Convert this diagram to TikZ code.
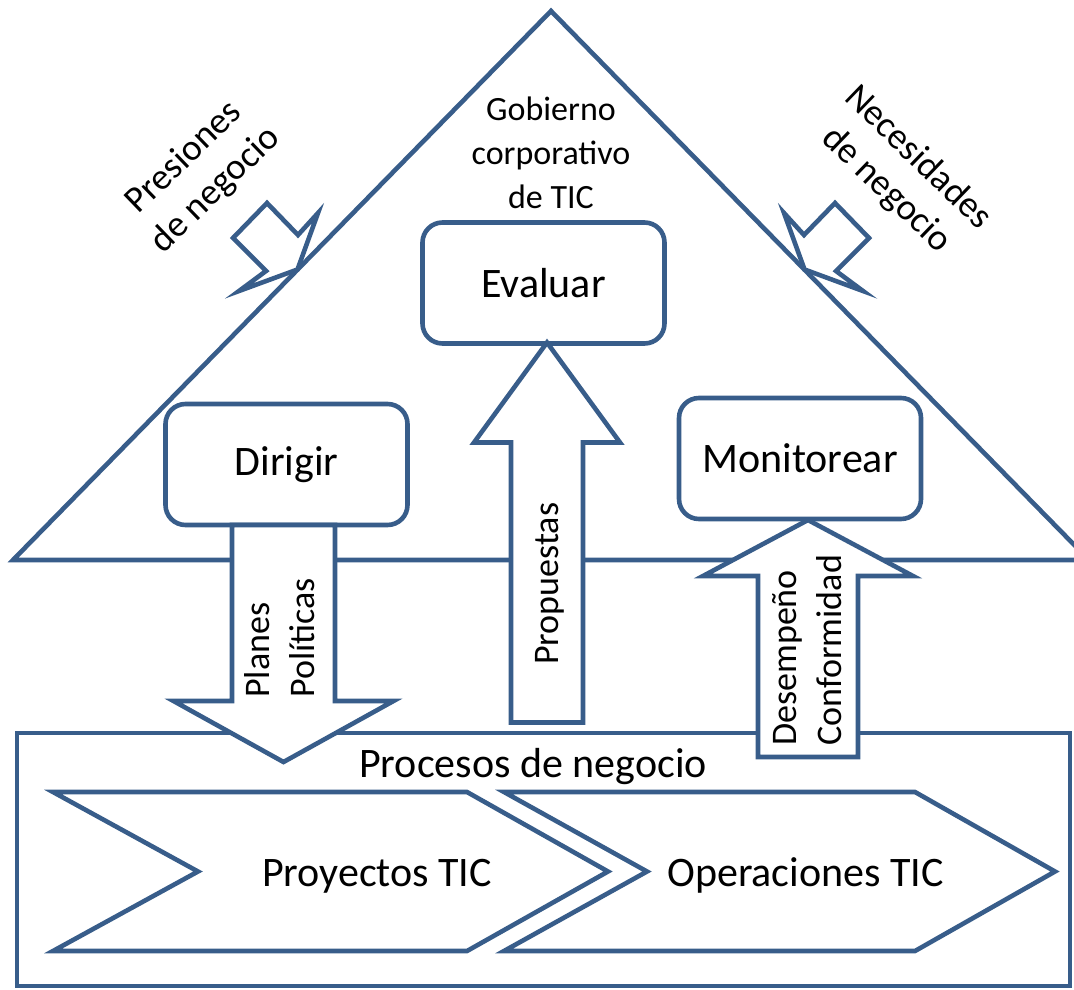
\documentclass[tikz,border=0pt]{standalone}
\usepackage{fontspec}
\setmainfont{Carlito}
\usetikzlibrary{positioning}
\definecolor{govblue}{HTML}{385D8A}

\begin{document}
\begin{tikzpicture}[
        x=0.5pt, y=-0.5pt,
        line width=2.3pt,
        govbox/.style={
            rectangle, rounded corners=10pt, draw=govblue, fill=white,
            minimum width=121pt, minimum height=60.5pt, inner sep=0pt, outer sep=0pt,
            font=\fontsize{21}{25}\selectfont
        },
        blockarrow/.style={draw=govblue, fill=white},
        outline/.style={draw=govblue},
        arrowlabel/.style={rotate=90, anchor=west, align=left, inner sep=0pt, font=\fontsize{18}{22.5}\selectfont},
        sidelabel/.style={align=center, inner sep=0pt, font=\fontsize{18.5}{22.5}\selectfont},
        bigtext/.style={inner sep=0pt, anchor=base, font=\fontsize{21}{25}\selectfont}
    ]
        \useasboundingbox (0,0) rectangle (1074,989);
        \clip (0,0) rectangle (1074,989);

        % Governance triangle
        \draw[outline] (13,560) -- (551,11) -- (1089,560) -- cycle;

        % Outside pressures
        \draw[blockarrow] (267,203) -- (298,235) -- (318,213) -- (297.5,269.5) -- (239,291) -- (266,271) -- (233,238) -- cycle;
        \draw[blockarrow] (835,203) -- (804,235) -- (784,213) -- (804.5,269.5) -- (863,291) -- (836,271) -- (869,238) -- cycle;
        \node (presiones) [sidelabel, rotate=44] at (200,174) {Presiones\\de negocio};
        \node (necesidades) [sidelabel, rotate=-44] at (902,174) {Necesidades\\de negocio};

        % Process box and chevrons
        \node (procesos) [rectangle, draw=govblue, minimum width=526.5pt, minimum height=126.5pt,
            inner sep=0pt, outer sep=0pt] at (543.5,859.5) {};
        \node (procesostxt) [bigtext] at (533,777) {Procesos de negocio};
        \draw[outline] (53,792) -- (467,792) -- (608,871.5) -- (467,951) -- (53,951) -- (198,871.5) -- cycle;
        \draw[outline] (504,792) -- (915,792) -- (1055,871.5) -- (915,951) -- (504,951) -- (647,871.5) -- cycle;
        \node (proyectos) [bigtext] at (377,886) {Proyectos TIC};
        \node (operaciones) [bigtext] at (805.5,886) {Operaciones TIC};

        % Governance boxes
        \node (evaluar) [govbox] at (543.5,283) {Evaluar};
        \node (dirigir) [govbox] at (286.5,464.5) {Dirigir};
        \node (monitorear) [govbox] at (800,458.5) {Monitorear};
        \node (gobierno) [above=5.5pt of evaluar, xshift=3.75pt, align=center, inner sep=0pt,
            font=\fontsize{17}{22}\selectfont] {Gobierno\\corporativo\\de TIC};

        % Block arrows
        \draw[blockarrow] (dirigir.south) ++(-54.5,0) -- ++(0,176) -- ++(-58.5,0) -- ++(110,61)
            -- ++(110,-61) -- ++(-58.5,0) -- ++(0,-176) -- cycle;
        \draw[blockarrow] (evaluar.south) ++(3.5,-1) -- ++(73,100) -- ++(-37,0) -- ++(0,280)
            -- ++(-72,0) -- ++(0,-280) -- ++(-37,0) -- cycle;
        \draw[blockarrow] (monitorear.south) ++(8,1) -- ++(105,56) -- ++(-55,0) -- ++(0,181)
            -- ++(-100,0) -- ++(0,-181) -- ++(-55,0) -- cycle;
        \node (planes) [arrowlabel] at (280,700) {Planes\\Políticas};
        \node (propuestas) [arrowlabel] at (550,667) {Propuestas};
        \node (desempeno) [arrowlabel] at (807,748) {Desempeño\\Conformidad};

    \end{tikzpicture}
\end{document}
